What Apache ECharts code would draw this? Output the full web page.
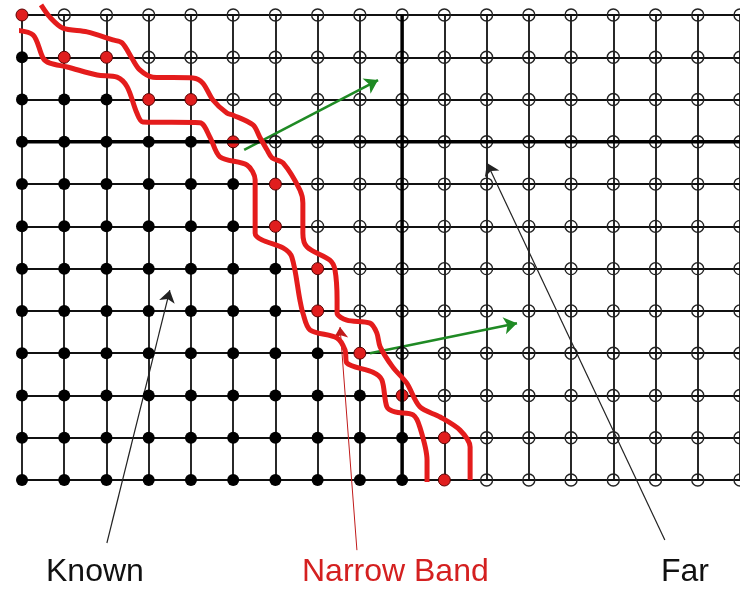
<!DOCTYPE html>
<html>
<head>
<meta charset="utf-8">
<script src="https://cdn.jsdelivr.net/npm/echarts@6/dist/echarts.min.js"></script>
<style>
    html, body {margin: 0; padding: 0; background: #fff;}
    #chart {width: 740px; height: 590px;}
</style>
</head>
<body>
<div id="chart"></div>
<script>
//网格大小 (列 0..17, 行 0..11)
let colCount = 18;
let rowCount = 12;
//粗线所在列/行
let thickCol = 9;
let thickRow = 3;

//每行窄带(红点)的起止列
let bandStart = [0, 1, 3, 5, 6, 6, 7, 7, 8, 9, 10, 10];
let bandEnd = [0, 2, 4, 5, 6, 6, 7, 7, 8, 9, 10, 10];

//窄带左边界 (列, 行)
let innerCurve = [
    [-0.24, 0.35], [0.26, 0.47], [0.50, 1.02], [0.66, 1.14], [1.07, 1.23], [1.78, 1.42],
    [2.25, 1.47], [2.49, 1.70], [2.72, 2.32], [2.86, 2.53], [4.21, 2.55], [4.45, 2.89],
    [4.69, 3.36], [5.33, 3.55], [5.52, 3.90], [5.52, 5.16], [5.68, 5.32], [6.18, 5.51],
    [6.39, 5.73], [6.58, 6.74], [6.65, 7.05], [6.82, 7.45], [7.46, 7.64], [7.65, 7.93],
    [7.69, 8.23], [8.31, 8.45], [8.52, 8.63], [8.64, 9.27], [8.83, 9.39], [9.26, 9.46],
    [9.42, 9.75], [9.59, 10.53], [9.59, 11.05]
];
//窄带右边界
let outerCurve = [
    [0.45, -0.24], [0.66, 0.05], [0.97, 0.31], [1.54, 0.40], [2.15, 0.59], [2.37, 0.66],
    [2.60, 1.02], [2.79, 1.30], [3.10, 1.47], [4.05, 1.49], [4.28, 1.61], [4.52, 2.01],
    [4.85, 2.32], [5.00, 2.37], [5.47, 2.60], [5.63, 2.89], [5.80, 3.19], [5.92, 3.38],
    [6.18, 3.50], [6.58, 4.14], [6.65, 4.45], [6.65, 5.16], [6.75, 5.49], [7.29, 5.80],
    [7.41, 6.03], [7.46, 6.74], [7.46, 7.05], [7.69, 7.22], [8.24, 7.29], [8.40, 7.52],
    [8.48, 7.85], [8.78, 8.33], [9.11, 8.71], [9.42, 9.27], [9.90, 9.51], [10.37, 9.82],
    [10.61, 10.22], [10.61, 11.00]
];

//绿色法向箭头
let greenArrows = [
    [[5.26, 3.19], [8.43, 1.54]],
    [[8.24, 8.00], [11.72, 7.29]]
];
//标注指向线
let knownPointer = [[2.01, 12.49], [3.50, 6.51]];
let bandPointer = [[7.93, 12.66], [7.53, 7.38]];
let farPointer = [[15.22, 12.42], [11.01, 3.50]];

//标签文字
let labelTexts = ['Known', 'Narrow Band', 'Far'];

//按行拆分三类点
let knownPoints = [];
let bandPoints = [];
let farPoints = [];
for (let r = 0; r < rowCount; r++) {
    for (let c = 0; c < colCount; c++) {
        if (c < bandStart[r]) {
            knownPoints.push([c, r]);
        } else if (c <= bandEnd[r]) {
            bandPoints.push([c, r]);
        } else {
            farPoints.push([c, r]);
        }
    }
}

let myChart = echarts.init(document.getElementById('chart'));

let labelFont = '32px "Liberation Sans", Arial';

let option = {
    animation: false,
    grid: {left: 22, top: 15, width: 718, height: 465},
    xAxis: {
        type: 'value', min: 0, max: colCount - 1, interval: 1,
        axisLine: {show: false}, axisTick: {show: false}, axisLabel: {show: false},
        splitLine: {show: true, lineStyle: {color: '#111', width: 1.8}}
    },
    yAxis: {
        type: 'value', min: 0, max: rowCount - 1, interval: 1, inverse: true,
        axisLine: {show: false}, axisTick: {show: false}, axisLabel: {show: false},
        splitLine: {show: true, lineStyle: {color: '#111', width: 1.8}}
    },
    graphic: [
        {type: 'text', left: 46, top: 556, style: {text: labelTexts[0], font: labelFont, fill: '#111'}},
        {type: 'text', left: 302, top: 556, style: {text: labelTexts[1], font: labelFont, fill: '#d42020'}},
        {type: 'text', left: 661, top: 556, style: {text: labelTexts[2], font: labelFont, fill: '#111'}}
    ],
    series: [
        //粗线
        {
            type: 'line', data: [[thickCol, 0], [thickCol, rowCount - 1]], symbol: 'none',
            lineStyle: {color: '#000', width: 3.5}, silent: true
        },
        {
            type: 'line', data: [[0, thickRow], [colCount - 1, thickRow]], symbol: 'none',
            lineStyle: {color: '#000', width: 3.5}, silent: true
        },
        //窄带边界
        {
            type: 'line', data: innerCurve, symbol: 'none', smooth: 0.3, clip: false,
            lineStyle: {color: '#e41c1c', width: 5}
        },
        {
            type: 'line', data: outerCurve, symbol: 'none', smooth: 0.3, clip: false,
            lineStyle: {color: '#e41c1c', width: 5}
        },
        //三类点
        {
            type: 'scatter', data: knownPoints, symbolSize: 12,
            itemStyle: {color: '#000', opacity: 1}
        },
        {
            type: 'scatter', data: bandPoints, symbolSize: 12,
            itemStyle: {color: '#e01e1e', borderColor: '#5a0000', borderWidth: 1, opacity: 1}
        },
        {
            type: 'scatter', data: farPoints, symbolSize: 12,
            itemStyle: {color: 'rgba(0,0,0,0)', borderColor: '#222', borderWidth: 1.4, opacity: 1}
        },
        //绿色箭头
        {
            type: 'lines', coordinateSystem: 'cartesian2d', clip: false,
            symbol: ['none', 'arrow'], symbolSize: 13,
            lineStyle: {color: '#1f8a24', width: 2.5, opacity: 1},
            data: greenArrows.map(function (a) { return {coords: a}; })
        },
        //指向线
        {
            type: 'lines', coordinateSystem: 'cartesian2d', clip: false,
            symbol: ['none', 'arrow'], symbolSize: 12,
            lineStyle: {color: '#222', width: 1.2, opacity: 1},
            data: [{coords: knownPointer}, {coords: farPointer}]
        },
        {
            type: 'lines', coordinateSystem: 'cartesian2d', clip: false,
            symbol: ['none', 'arrow'], symbolSize: 11,
            lineStyle: {color: '#c01a1a', width: 1, opacity: 1},
            data: [{coords: bandPointer}]
        }
    ]
};

myChart.setOption(option);
</script>
</body>
</html>
